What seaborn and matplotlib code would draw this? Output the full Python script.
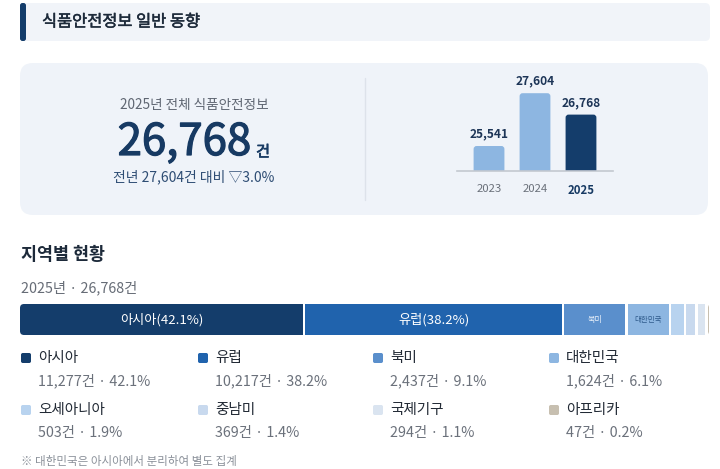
"""
식품안전정보 일반 동향 dashboard card
"""
import matplotlib
matplotlib.use("Agg")
import matplotlib.pyplot as plt
import matplotlib.patheffects as pe
import numpy as np
import pandas as pd
import seaborn as sns
from matplotlib.patches import FancyBboxPatch

sns.set_theme(style="white")
plt.rcParams["font.family"] = ["Noto Sans CJK KR", "DejaVu Sans"]

# data
years = ["2023", "2024", "2025"]
yearly_counts = [25541, 27604, 26768]

regions = ["아시아", "유럽", "북미", "대한민국", "오세아니아", "중남미", "국제기구", "아프리카"]
region_counts = [11277, 10217, 2437, 1624, 503, 369, 294, 47]
region_pcts = [42.1, 38.2, 9.1, 6.1, 1.9, 1.4, 1.1, 0.2]
region_colors = ["#143d6b", "#2063ad", "#5a8fcc", "#8db6e1",
                 "#b8d3ef", "#c8d9ee", "#dae4f0", "#c7bfb0"]

NAVY = "#173a63"
GRAY = "#5f6672"


def heavier(w, color):
    # fake a medium weight by stroking the regular glyphs
    return [pe.withStroke(linewidth=w, foreground=color)]


fig = plt.figure(figsize=(7.2, 4.69), dpi=100)
bg = fig.add_axes([0, 0, 1, 1])
bg.set_xlim(0, 720)
bg.set_ylim(469, 0)
bg.axis("off")

# header strip
bg.add_patch(FancyBboxPatch((20, 3), 690, 38, boxstyle="round,pad=0,rounding_size=5",
                            fc="#f1f4f9", ec="none"))
bg.add_patch(FancyBboxPatch((20, 3), 6, 38, boxstyle="round,pad=0,rounding_size=2.5",
                            fc="#143d6b", ec="none"))
bg.text(42, 22, "식품안전정보 일반 동향", fontsize=11.8, color="#1d2a3a",
        va="center", ha="left", path_effects=heavier(0.35, "#1d2a3a"))

# summary card
bg.add_patch(FancyBboxPatch((20, 63), 688, 152, boxstyle="round,pad=0,rounding_size=13",
                            fc="#eff3f9", ec="none"))
bg.plot([365, 365], [78, 200], color="#dde2ea", lw=1)

bg.text(194, 105, "2025년 전체 식품안전정보", fontsize=9.8, color=GRAY,
        ha="center", va="center")
bg.text(251, 142, "26,768", fontsize=31.5, color=NAVY, ha="right", va="center",
        path_effects=heavier(0.9, NAVY))
bg.text(256, 152, "건", fontsize=11, color=NAVY, ha="left", va="center",
        path_effects=heavier(0.5, NAVY))
bg.text(194, 177, "전년 27,604건 대비 ▽3.0%", fontsize=10, color="#2e4d74",
        ha="center", va="center")

# yearly bar chart
y0, px_per = 24565, 0.0256
ax = fig.add_axes([457 / 720, (469 - 171) / 469, 156 / 720, 91 / 469])
df_year = pd.DataFrame({"year": years, "count": yearly_counts})
sns.barplot(data=df_year, x="year", y="count", hue="year",
            palette=["#8db6e1", "#8db6e1", "#143d6b"], width=0.67,
            legend=False, ax=ax, saturation=1)
ax.set_xlim(-0.696, 2.696)
ax.set_ylim(y0, y0 + 91 / px_per)
ax.set_facecolor("none")
for side in ["top", "right", "left"]:
    ax.spines[side].set_visible(False)
ax.spines["bottom"].set_color("#c3c8d0")
ax.spines["bottom"].set_linewidth(1.2)
ax.spines["bottom"].set_zorder(5)
ax.set_xlabel("")
ax.set_ylabel("")
ax.set_yticks([])
ax.tick_params(axis="x", length=0, pad=9)
for lbl in ax.get_xticklabels():
    lbl.set_fontsize(8.2)
    if lbl.get_text() == "2025":
        lbl.set_color(NAVY)
        lbl.set_fontweight("bold")
    else:
        lbl.set_color("#6b717b")
for cont in ax.containers:
    ax.bar_label(cont, labels=[f"{v:,.0f}" for v in cont.datavalues],
                 fontsize=8.6, fontweight="bold", color="#1d3557", padding=4,
                 clip_on=False)

# swap the square bars for ones with rounded tops (bottom hidden below the axis)
x_per_px = 0.67 / 31
for p in list(ax.patches):
    x, w, top = p.get_x(), p.get_width(), p.get_height()
    fc = p.get_facecolor()
    p.remove()
    ax.add_patch(FancyBboxPatch((x, y0 - 300), w, top - y0 + 300,
                                boxstyle=f"round,pad=0,rounding_size={3 * x_per_px}",
                                mutation_aspect=1 / (px_per * x_per_px),
                                fc=fc, ec="none"))

# region section
bg.text(21, 255, "지역별 현황", fontsize=12.5, fontweight="bold", color="#1d2a3a",
        ha="left", va="center")
bg.text(21, 288, "2025년 · 26,768건", fontsize=10.3, color="#666c76",
        ha="left", va="center")

# stacked bar, with small white gaps between segments
bar_px, gap_px = 689, 2.5
total = sum(region_counts)
gap = total * gap_px / (bar_px - gap_px * (len(regions) - 1))
span = total + gap * (len(regions) - 1)
sax = fig.add_axes([20 / 720, (469 - 335) / 469, bar_px / 720, 31 / 469])
lefts = np.concatenate([[0], np.cumsum(region_counts)[:-1]]) + gap * np.arange(len(regions))
bars = sax.barh([0] * len(regions), region_counts, left=lefts, height=1,
                color=region_colors, linewidth=0)
sax.set_xlim(0, span)
sax.set_ylim(-0.5, 0.5)
sax.axis("off")
clip = FancyBboxPatch((20, 304), bar_px, 31, boxstyle="round,pad=0,rounding_size=4",
                      transform=bg.transData, fc="none", ec="none")
for b in bars:
    b.set_clip_path(clip)

seg_labels = [f"아시아({region_pcts[0]}%)", f"유럽({region_pcts[1]}%)", "북미", "대한민국"]
seg_sizes = [9.5, 9.5, 5.8, 5.4]
seg_colors = ["white", "white", "#eaf1fa", "#2f5b8c"]
for i, (txt, fs, c) in enumerate(zip(seg_labels, seg_sizes, seg_colors)):
    sax.text(lefts[i] + region_counts[i] / 2, 0, txt, fontsize=fs, color=c,
             ha="center", va="center")

# legend grid
col_x = [20, 197, 372, 548]
row_y = [358, 410]
for i, name in enumerate(regions):
    cx = col_x[i % 4]
    ry = row_y[i // 4]
    bg.add_patch(FancyBboxPatch((cx + 1, ry - 5), 10, 10,
                                boxstyle="round,pad=0,rounding_size=1.8",
                                fc=region_colors[i], ec="none"))
    bg.text(cx + 18, ry, name, fontsize=10.5, color="#222a35",
            ha="left", va="center")
    bg.text(cx + 18, ry + 23, f"{region_counts[i]:,}건 · {region_pcts[i]}%",
            fontsize=10.3, color="#6b717b", ha="left", va="center")

bg.text(21, 461, "※ 대한민국은 아시아에서 분리하여 별도 집계", fontsize=8.3,
        color="#8a9099", ha="left", va="center")

fig.savefig("out.png", dpi=100)
plt.close(fig)
